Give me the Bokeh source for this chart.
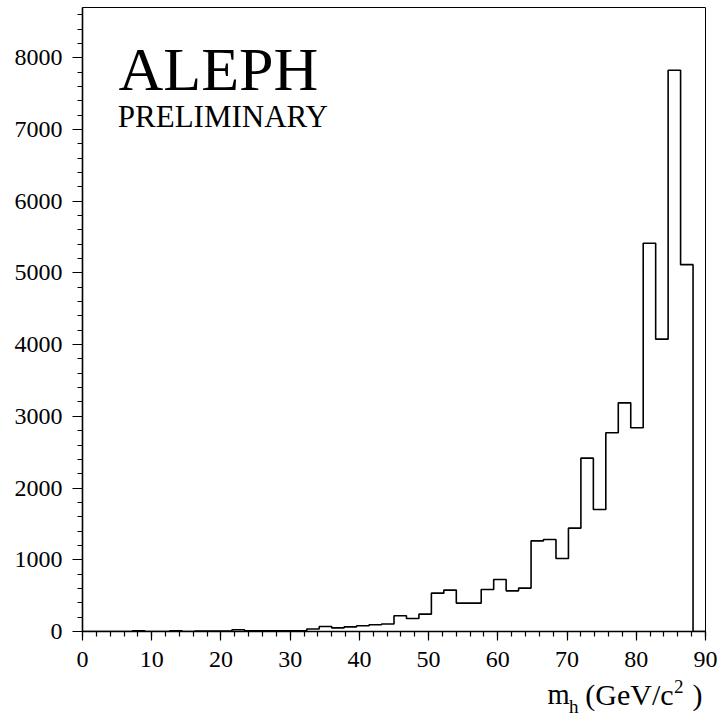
from bokeh.plotting import figure
from bokeh.layouts import column
from bokeh.models import Range1d, SingleIntervalTicker, Label, Div
from bokeh.embed import file_html
from bokeh.resources import INLINE

# Reconstructed Higgs mass spectrum, 50 bins of 1.8 GeV/c^2 from 0 to 90
bin_width = 1.8
bin_edges = [round(i * bin_width, 1) for i in range(51)]
counts = [
    0, 0, 0, 0, 10, 0, 0, 10, 0, 8,
    8, 8, 25, 10, 10, 10, 10, 10, 35, 70,
    50, 65, 80, 95, 105, 220, 182, 242, 535, 577,
    396, 396, 586, 725, 567, 605, 1264, 1283, 1018, 1441,
    2417, 1701, 2770, 3188, 2840, 5414, 4076, 7826, 5115, 0,
]

x_ticks = [0, 10, 20, 30, 40, 50, 60, 70, 80, 90]
y_ticks = [0, 1000, 2000, 3000, 4000, 5000, 6000, 7000, 8000]

FONT = "Liberation Serif"

p = figure(
    width=722, height=678,
    x_range=Range1d(0, 90), y_range=Range1d(0, 8700),
    output_backend="svg", toolbar_location=None,
    min_border_left=82, min_border_right=17,
    min_border_top=7, min_border_bottom=47,
)
p.grid.visible = False
p.background_fill_color = "white"
p.border_fill_color = "white"
p.outline_line_color = "black"
p.outline_line_width = 1

# histogram outline drawn as a step line over the bin edges
p.step(bin_edges, counts + [counts[-1]], mode="after",
       line_color="black", line_width=1.6)

# axes
p.xaxis.ticker = SingleIntervalTicker(interval=10, num_minor_ticks=5)
p.yaxis.ticker = SingleIntervalTicker(interval=1000, num_minor_ticks=5)
for ax in (p.xaxis, p.yaxis):
    ax.axis_line_color = "black"
    ax.axis_line_width = 1.6
    ax.major_tick_line_color = "black"
    ax.minor_tick_line_color = "black"
    ax.major_tick_line_width = 1.2
    ax.minor_tick_line_width = 1.2
    ax.major_tick_in = 0
    ax.minor_tick_in = 0
    ax.minor_tick_out = 5
    ax.major_label_text_font = FONT
    ax.major_label_text_font_size = "24px"
    ax.major_label_text_color = "black"
p.xaxis.major_tick_out = 9
p.yaxis.major_tick_out = 10
p.xaxis.major_label_standoff = 11
p.yaxis.major_label_standoff = 10

# experiment tag
p.add_layout(Label(x=5.2, y=7848, text="ALEPH", text_font=FONT,
                   text_font_size="62px", text_color="black",
                   text_baseline="alphabetic"))
p.add_layout(Label(x=5.1, y=7179, text="PRELIMINARY", text_font=FONT,
                   text_font_size="31px", text_color="black",
                   text_baseline="alphabetic"))

# x-axis title m_h (GeV/c^2) under the axis, with real sub/superscripts
def piece(txt, left, top, size):
    return (f'<span style="position:absolute; left:{left}px; top:{top}px; '
            f'font-size:{size}px; line-height:1; white-space:pre;">{txt}</span>')

title_html = (
    f'<div style="position:relative; width:722px; height:45px; '
    f'font-family:\'{FONT}\', serif; color:black; overflow:visible;">'
    + piece("m", 547.5, 3.0, 28.5)
    + piece("h", 569.1, 19.1, 19)
    + piece("(GeV/c", 585.3, 1.9, 30)
    + piece("2", 674.0, -0.9, 19)
    + piece(")", 692.5, 1.9, 30)
    + '</div>'
)
x_title = Div(text=title_html, width=722, height=45,
              styles={"overflow": "visible", "margin": "0", "padding": "0"})

page = column(p, x_title, spacing=0)
open("out.html", "w").write(file_html(page, INLINE))
